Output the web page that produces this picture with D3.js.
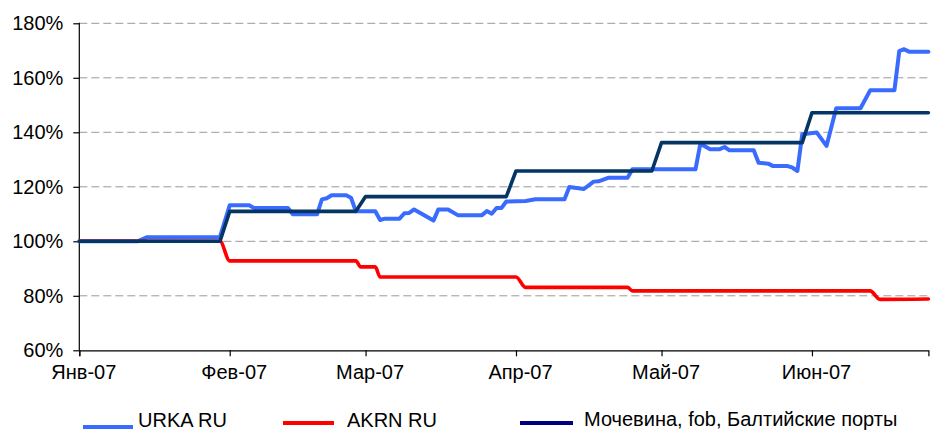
<!DOCTYPE html>
<html>
<head>
<meta charset="utf-8">
<script src="https://cdn.jsdelivr.net/npm/d3@7"></script>
<style>
  body { margin: 0; background: #fff; }
  text { font-family: "Liberation Sans", Arial, sans-serif; fill: #000; }
</style>
</head>
<body>
<div id="chart"></div>
<script>
// Month ticks and labels
let monthTicks = ["2007-01-01", "2007-02-01", "2007-03-01", "2007-04-01", "2007-05-01", "2007-06-01"];
let monthLabels = ["Янв-07", "Фев-07", "Мар-07", "Апр-07", "Май-07", "Июн-07"];
let yTicks = [60, 80, 100, 120, 140, 160, 180];

// URKA RU
let urkaDates = ["2007-01-01", "2007-01-13", "2007-01-15", "2007-01-30", "2007-02-01", "2007-02-05",
    "2007-02-06", "2007-02-13", "2007-02-14", "2007-02-19", "2007-02-20", "2007-02-21", "2007-02-22",
    "2007-02-25", "2007-02-26", "2007-02-27", "2007-03-03", "2007-03-04", "2007-03-05", "2007-03-08",
    "2007-03-09", "2007-03-10", "2007-03-11", "2007-03-15", "2007-03-16", "2007-03-18", "2007-03-20",
    "2007-03-25", "2007-03-26", "2007-03-27", "2007-03-28", "2007-03-29", "2007-03-30", "2007-04-03",
    "2007-04-05", "2007-04-11", "2007-04-12", "2007-04-15", "2007-04-17", "2007-04-18", "2007-04-20",
    "2007-04-24", "2007-04-25", "2007-05-08", "2007-05-09", "2007-05-11", "2007-05-13", "2007-05-14",
    "2007-05-15", "2007-05-20", "2007-05-21", "2007-05-23", "2007-05-24", "2007-05-27", "2007-05-28",
    "2007-05-29", "2007-05-30", "2007-06-02", "2007-06-04", "2007-06-06", "2007-06-11", "2007-06-13",
    "2007-06-18", "2007-06-19", "2007-06-20", "2007-06-21", "2007-06-25"];
let urkaValues = [100, 100, 101.5, 101.6, 113.2, 113.2,
    112.2, 112.2, 109.9, 109.9, 115.4, 115.8, 116.9,
    116.9, 116.0, 111.0, 111.0, 107.8, 108.3, 108.3,
    110.3, 110.4, 111.7, 107.6, 111.7, 111.7, 109.6,
    109.6, 111.1, 110.1, 112.2, 112.2, 114.6, 114.8,
    115.4, 115.4, 119.9, 119.2, 121.9, 122.0, 123.3,
    123.3, 126.4, 126.4, 135.8, 133.8, 133.8, 134.6,
    133.4, 133.4, 128.8, 128.5, 127.6, 127.6, 127.0,
    125.8, 139.3, 139.9, 135.0, 148.8, 148.8, 155.4,
    155.4, 169.8, 170.5, 169.6, 169.6];

// AKRN RU
let akrnDates = ["2007-01-01", "2007-01-30", "2007-02-01", "2007-02-27", "2007-02-28", "2007-03-03",
    "2007-03-04", "2007-04-01", "2007-04-03", "2007-04-24", "2007-04-25", "2007-06-13", "2007-06-15",
    "2007-06-25"];
let akrnValues = [100, 100, 92.8, 92.8, 90.6, 90.6,
    86.9, 86.9, 83.1, 83.1, 81.8, 81.8, 78.7,
    78.8];

// Urea, fob Baltic ports
let ureaDates = ["2007-01-01", "2007-01-30", "2007-02-01", "2007-02-27", "2007-03-01", "2007-03-30",
    "2007-04-01", "2007-04-29", "2007-05-01", "2007-05-30", "2007-06-01", "2007-06-25"];
let ureaValues = [100, 100, 111, 111, 116.4, 116.4,
    125.8, 125.8, 136.2, 136.2, 147.2, 147.2];

let seriesNames = ["URKA RU", "AKRN RU", "Мочевина, fob, Балтийские порты"];

// svg size and plot area
let svgWidth = 933;
let svgHeight = 432;
let plot = { left: 79.3, right: 928.4, top: 23.3, bottom: 350.3 };

let parseDate = d3.timeParse("%Y-%m-%d");

let svg = d3.select("#chart")
    .append("svg")
    .attr("width", svgWidth)
    .attr("height", svgHeight);

let xScale = d3.scaleTime()
    .domain([parseDate("2007-01-01"), parseDate("2007-06-25")])
    .range([plot.left, plot.right]);

let yScale = d3.scaleLinear()
    .domain([60, 180])
    .range([plot.bottom, plot.top]);

// gridlines
svg.append("g")
    .selectAll("line")
    .data(yTicks.filter(d => d > 60))
    .enter()
    .append("line")
    .attr("x1", plot.left)
    .attr("x2", plot.right)
    .attr("y1", d => yScale(d))
    .attr("y2", d => yScale(d))
    .attr("stroke", "#999")
    .attr("stroke-width", 1)
    .attr("stroke-dasharray", "8,4");

// axes
let leftAxis = d3.axisLeft(yScale)
    .tickValues(yTicks)
    .tickSize(6)
    .tickPadding(10)
    .tickFormat(d => d + "%");

let bottomAxis = d3.axisBottom(xScale)
    .tickValues(monthTicks.map(parseDate))
    .tickSize(6)
    .tickPadding(9)
    .tickFormat((d, i) => monthLabels[i]);

let yAxisG = svg.append("g")
    .attr("transform", `translate(${plot.left},0)`)
    .call(leftAxis);

let xAxisG = svg.append("g")
    .attr("transform", `translate(0,${plot.bottom})`)
    .call(bottomAxis);

[yAxisG, xAxisG].forEach(g => {
    g.select(".domain").attr("stroke", "#000").attr("stroke-width", 1.2);
    g.selectAll(".tick line").attr("stroke", "#000").attr("stroke-width", 1.2);
    g.selectAll(".tick text")
        .style("font-family", "'Liberation Sans', Arial, sans-serif")
        .style("font-size", "20px")
        .attr("fill", "#000");
});
yAxisG.select(".domain").attr("d", `M-0,${plot.bottom}V${plot.top - 0.5}`);
xAxisG.selectAll(".tick text").attr("dx", 4);

// lines
function makePoints(dates, values) {
    return dates.map((d, i) => ({ date: parseDate(d), value: values[i] }));
}

let straightLine = d3.line()
    .x(d => xScale(d.date))
    .y(d => yScale(d.value));

let smoothLine = d3.line()
    .x(d => xScale(d.date))
    .y(d => yScale(d.value))
    .curve(d3.curveMonotoneX);

let lines = [
    { pts: makePoints(urkaDates, urkaValues), color: "#3a6bff", width: 4, gen: straightLine },
    { pts: makePoints(akrnDates, akrnValues), color: "#ff0000", width: 3.6, gen: smoothLine },
    { pts: makePoints(ureaDates, ureaValues), color: "#043563", width: 3.6, gen: straightLine }
];

svg.append("g")
    .selectAll("path")
    .data(lines)
    .enter()
    .append("path")
    .attr("d", d => d.gen(d.pts))
    .attr("fill", "none")
    .attr("stroke", d => d.color)
    .attr("stroke-width", d => d.width)
    .attr("stroke-linejoin", "round")
    .attr("stroke-linecap", "round");

// legend (staggered like the original)
let legendItems = [
    { x1: 83, x2: 133, ly: 427, tx: 138, ty: 427, color: "#3a6bff" },
    { x1: 283, x2: 334, ly: 423, tx: 347, ty: 427, color: "#ff0000" },
    { x1: 520, x2: 573, ly: 423, tx: 584, ty: 426, color: "#000080" }
];

let legend = svg.append("g");
legendItems.forEach((item, i) => {
    legend.append("line")
        .attr("x1", item.x1)
        .attr("x2", item.x2)
        .attr("y1", item.ly)
        .attr("y2", item.ly)
        .attr("stroke", item.color)
        .attr("stroke-width", 4);
    legend.append("text")
        .attr("x", item.tx)
        .attr("y", item.ty)
        .style("font-size", "20px")
        .text(seriesNames[i]);
});
</script>
</body>
</html>
